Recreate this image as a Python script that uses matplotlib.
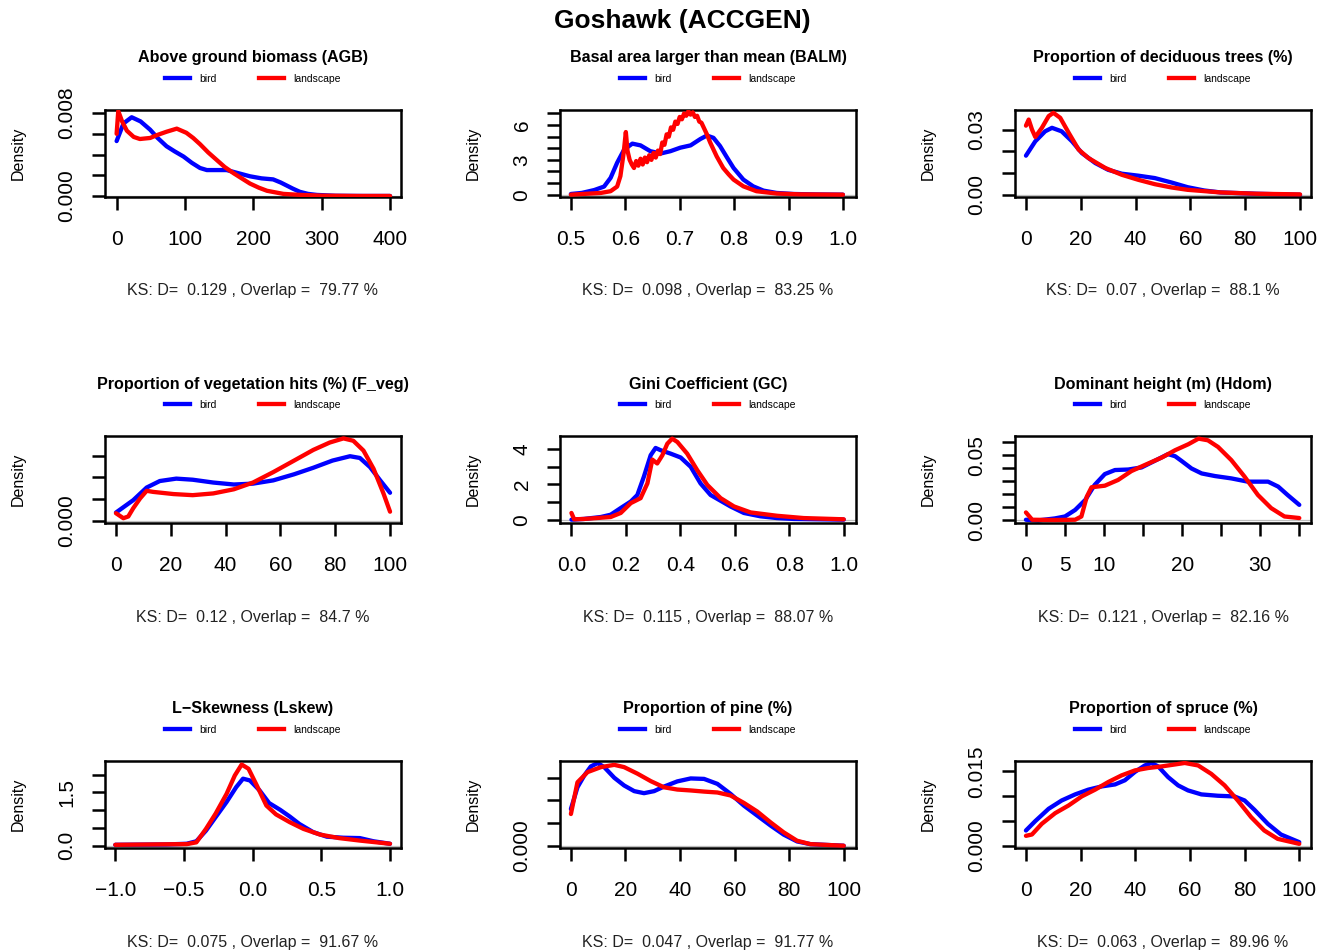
import matplotlib
matplotlib.use("Agg")
import matplotlib.pyplot as plt
from matplotlib.lines import Line2D

plt.rcParams['font.family'] = ['Liberation Sans', 'DejaVu Sans']

# --- data (x, density) ---
# Above ground biomass (AGB)
agb_bird_x = [0, 10, 22, 35, 49, 60, 73, 85, 98, 110, 122, 132, 145, 161, 178, 195, 212, 229, 240, 249, 258, 268, 280, 293, 320, 360, 400]
agb_bird_y = [0.0053, 0.0070, 0.0076, 0.0072, 0.0064, 0.0056, 0.0048, 0.0043, 0.0038, 0.0032, 0.0027, 0.0025, 0.0025, 0.0025, 0.0022, 0.0019, 0.0017, 0.0016, 0.0013, 0.0010, 0.0007, 0.0004, 0.0002, 0.0001, 0.00002, 0.0, 0.0]
agb_land_x = [0, 2.4, 8, 15, 25, 34, 49, 60, 73, 88, 102, 112, 122, 134, 146, 158, 171, 183, 195, 208, 220, 244, 270, 300, 350, 400]
agb_land_y = [0.0060, 0.0082, 0.0072, 0.0063, 0.0057, 0.0055, 0.0056, 0.0059, 0.0062, 0.0065, 0.0061, 0.0056, 0.0050, 0.0042, 0.0035, 0.0028, 0.0022, 0.0017, 0.0012, 0.0008, 0.0005, 0.0002, 0.0001, 0.00003, 0.0, 0.0]

# Basal area larger than mean (BALM)
balm_bird_x = [0.50, 0.52, 0.543, 0.561, 0.573, 0.585, 0.598, 0.613, 0.628, 0.646, 0.665, 0.683, 0.701, 0.720, 0.738, 0.750, 0.762, 0.774, 0.787, 0.799, 0.817, 0.835, 0.854, 0.878, 0.909, 0.95, 1.0]
balm_bird_y = [0.06, 0.15, 0.4, 0.7, 1.45, 2.75, 3.9, 4.4, 4.25, 3.75, 3.55, 3.75, 4.05, 4.25, 4.8, 5.1, 4.9, 4.2, 3.2, 2.3, 1.3, 0.72, 0.35, 0.15, 0.06, 0.02, 0.0]
balm_land_x = [0.50, 0.555, 0.573, 0.585, 0.591, 0.597, 0.601, 0.604, 0.608, 0.612, 0.616, 0.620, 0.624, 0.628,
               0.632, 0.636, 0.640, 0.644, 0.648, 0.652, 0.656, 0.660, 0.664, 0.668, 0.672, 0.676, 0.680, 0.684,
               0.688, 0.692, 0.696, 0.700, 0.704, 0.708, 0.712, 0.716, 0.720, 0.724, 0.728, 0.732, 0.736, 0.740,
               0.744, 0.750, 0.756, 0.762, 0.768, 0.774, 0.780, 0.790, 0.799, 0.817, 0.841, 0.878, 0.92, 1.0]
balm_land_y = [0.0, 0.15, 0.3, 0.7, 1.6, 3.6, 5.4, 3.8, 3.0, 2.6, 2.3, 2.9, 2.5, 3.1,
               2.6, 3.2, 2.8, 3.4, 3.0, 3.6, 3.2, 3.8, 3.5, 4.5, 4.3, 5.2, 5.0, 5.8,
               5.6, 6.3, 6.1, 6.7, 6.5, 7.0, 6.8, 7.2, 6.9, 7.1, 6.7, 6.8, 6.3, 6.2,
               5.8, 5.2, 4.5, 3.9, 3.3, 2.8, 2.3, 1.75, 1.3, 0.72, 0.3, 0.1, 0.03, 0.0]

# Proportion of deciduous trees (%)
dec_bird_x = [0, 3.4, 7, 9.5, 13, 16.8, 20.4, 25.3, 30, 35, 41, 47, 53, 59, 65, 71, 84, 100]
dec_bird_y = [0.018, 0.0246, 0.0292, 0.0308, 0.0292, 0.0246, 0.0192, 0.0146, 0.0115, 0.0097, 0.0088, 0.0077, 0.0057, 0.0035, 0.0020, 0.0011, 0.0005, 0.0]
dec_land_x = [0, 1, 2.2, 3.4, 5.8, 8.3, 10, 12.5, 15.6, 19.2, 22.8, 29, 35, 41, 47, 53, 59, 71, 84, 100]
dec_land_y = [0.0318, 0.0346, 0.030, 0.0266, 0.0308, 0.0362, 0.0377, 0.0354, 0.0285, 0.0208, 0.0169, 0.0123, 0.0092, 0.0069, 0.0049, 0.0034, 0.0023, 0.0011, 0.0005, 0.0002]

# Proportion of vegetation hits (%) (F_veg)
fveg_bird_x = [0, 6.3, 11.2, 16, 22, 28, 35.5, 43, 50, 57.4, 65, 72, 79, 85.4, 89, 92.7, 96.4, 100]
fveg_bird_y = [0.0019, 0.00475, 0.00765, 0.00915, 0.0097, 0.00945, 0.0088, 0.00835, 0.00855, 0.0093, 0.0107, 0.0122, 0.01385, 0.01485, 0.01445, 0.01235, 0.0093, 0.00645]
fveg_land_x = [0, 2.7, 4.5, 6.3, 8.8, 11.2, 13.6, 21, 28, 35.5, 43, 50, 57.4, 65, 72, 78, 83, 86.6, 90.3, 94, 97.6, 100]
fveg_land_y = [0.00175, 0.0006, 0.001, 0.0029, 0.00515, 0.0069, 0.00665, 0.00615, 0.0059, 0.0063, 0.00725, 0.0088, 0.0112, 0.01385, 0.0163, 0.018, 0.01895, 0.0184, 0.01615, 0.01195, 0.0063, 0.0021]

# Gini Coefficient (GC)
gc_bird_x = [0.0, 0.046, 0.108, 0.144, 0.181, 0.218, 0.242, 0.266, 0.291, 0.309, 0.328, 0.364, 0.401, 0.438, 0.474, 0.511, 0.548, 0.584, 0.633, 0.694, 0.755, 0.817, 1.0]
gc_bird_y = [0.0, 0.04, 0.15, 0.28, 0.66, 1.03, 1.4, 2.44, 3.66, 4.07, 3.94, 3.75, 3.53, 3.0, 2.06, 1.4, 1.07, 0.75, 0.38, 0.19, 0.09, 0.04, 0.0]
gc_land_x = [0.0, 0.01, 0.046, 0.144, 0.181, 0.218, 0.254, 0.279, 0.297, 0.315, 0.334, 0.352, 0.370, 0.389, 0.425, 0.462, 0.499, 0.548, 0.597, 0.658, 0.755, 0.853, 1.0]
gc_land_y = [0.38, 0.02, 0.04, 0.15, 0.38, 0.94, 1.22, 2.06, 3.41, 3.19, 3.66, 4.31, 4.6, 4.41, 3.75, 2.81, 1.97, 1.22, 0.75, 0.41, 0.22, 0.09, 0.02]

# Dominant height (m) (Hdom)
hdom_bird_x = [0, 1.6, 3.7, 5, 6.3, 7.6, 8.8, 10.1, 11.4, 13.1, 14.8, 16.5, 18.2, 19.1, 19.9, 21.2, 22.5, 24.2, 26.3, 28.4, 31, 32.3, 33.5, 35]
hdom_bird_y = [0.0005, 0.0, 0.0015, 0.003, 0.008, 0.0157, 0.0272, 0.0355, 0.0386, 0.039, 0.0406, 0.0457, 0.0508, 0.0492, 0.0457, 0.0398, 0.036, 0.034, 0.0322, 0.0297, 0.0297, 0.0259, 0.0195, 0.0119]
hdom_land_x = [0, 0.8, 3.7, 6.3, 7.1, 7.8, 8.4, 10.1, 11.8, 13.5, 15.2, 17.4, 19.1, 20.8, 22.1, 23.3, 24.6, 26.3, 28, 29.7, 31.4, 33.1, 35]
hdom_land_y = [0.0061, 0.0005, 0.0003, 0.0005, 0.003, 0.0183, 0.0254, 0.0266, 0.031, 0.0378, 0.0424, 0.0482, 0.0538, 0.0584, 0.0627, 0.0614, 0.0563, 0.0462, 0.0335, 0.0195, 0.0094, 0.003, 0.0018]

# L-Skewness (Lskew)
lsk_bird_x = [-1.0, -0.63, -0.48, -0.41, -0.34, -0.27, -0.19, -0.12, -0.07, -0.02, 0.05, 0.12, 0.20, 0.27, 0.34, 0.44, 0.54, 0.66, 0.78, 0.88, 1.0]
lsk_bird_y = [0.02, 0.03, 0.05, 0.12, 0.42, 0.8, 1.23, 1.65, 1.89, 1.84, 1.56, 1.2, 1.01, 0.82, 0.61, 0.38, 0.25, 0.22, 0.21, 0.12, 0.05]
lsk_land_x = [-1.0, -0.48, -0.41, -0.34, -0.27, -0.19, -0.13, -0.08, -0.03, 0.03, 0.10, 0.17, 0.27, 0.37, 0.49, 0.63, 0.78, 1.0]
lsk_land_y = [0.02, 0.04, 0.09, 0.47, 0.9, 1.46, 1.98, 2.29, 2.17, 1.7, 1.13, 0.88, 0.66, 0.47, 0.31, 0.21, 0.14, 0.05]

# Proportion of pine (%)
pine_bird_x = [0, 2.4, 4.9, 7.3, 9.8, 12.2, 15.9, 19.5, 23.2, 26.8, 30.5, 34.1, 39, 43.9, 48.8, 53.7, 58.5, 63.4, 68.3, 73.2, 78, 82.9, 87.8, 100]
pine_bird_y = [0.0081, 0.0129, 0.0155, 0.0175, 0.01825, 0.01735, 0.015, 0.0133, 0.01205, 0.0116, 0.01205, 0.01305, 0.0142, 0.01485, 0.01475, 0.01365, 0.01145, 0.00885, 0.00665, 0.00445, 0.00245, 0.00095, 0.00035, 0.0]
pine_land_x = [0, 2.4, 6.1, 11, 15.9, 19.5, 24.4, 29.3, 34.1, 39, 43.9, 48.8, 53.7, 58.5, 63.4, 68.3, 73.2, 78, 82.9, 87.8, 100]
pine_land_y = [0.007, 0.014, 0.01625, 0.01735, 0.01785, 0.01735, 0.0159, 0.01425, 0.0129, 0.0124, 0.0122, 0.01195, 0.01175, 0.0111, 0.00945, 0.00755, 0.00515, 0.00295, 0.0011, 0.00035, 0.0]

# Proportion of spruce (%)
spr_bird_x = [0, 3.4, 8.3, 13.1, 18, 22.8, 27.7, 32.6, 36.2, 39.9, 43.5, 45.9, 48.4, 52, 55.7, 59.3, 64.2, 70.2, 76.3, 80, 83.6, 88.5, 93.3, 100]
spr_bird_y = [0.00304, 0.00493, 0.00743, 0.00912, 0.01034, 0.0113, 0.01196, 0.01236, 0.0132, 0.0149, 0.0162, 0.0167, 0.016, 0.01385, 0.01216, 0.01115, 0.01034, 0.01007, 0.00993, 0.00912, 0.00723, 0.00439, 0.00223, 0.00068]
spr_land_x = [0, 2.2, 5.8, 10.7, 15.6, 20.4, 25.3, 30.1, 35, 39.9, 44.7, 49.6, 54.5, 58.1, 63, 67.8, 72.7, 77.5, 82.4, 87.2, 92.1, 100]
spr_land_y = [0.00196, 0.00223, 0.00439, 0.00655, 0.0081, 0.00993, 0.0113, 0.01284, 0.01419, 0.0152, 0.01568, 0.016, 0.0164, 0.0167, 0.0162, 0.0145, 0.01216, 0.00912, 0.00574, 0.00304, 0.00135, 0.00034]

titles = ["Above ground biomass (AGB)", "Basal area larger than mean (BALM)", "Proportion of deciduous trees (%)",
          "Proportion of vegetation hits (%) (F_veg)", "Gini Coefficient (GC)", "Dominant height (m) (Hdom)",
          "L\u2212Skewness (Lskew)", "Proportion of pine (%)", "Proportion of spruce (%)"]
ks_d = ["0.129", "0.098", "0.07", "0.12", "0.115", "0.121", "0.075", "0.047", "0.063"]
overlap = ["79.77", "83.25", "88.1", "84.7", "88.07", "82.16", "91.67", "91.77", "89.96"]

x_ticks = [[0, 100, 200, 300, 400], [0.5, 0.6, 0.7, 0.8, 0.9, 1.0], [0, 20, 40, 60, 80, 100],
           [0, 20, 40, 60, 80, 100], [0.0, 0.2, 0.4, 0.6, 0.8, 1.0], [0, 5, 10, 15, 20, 25, 30, 35],
           [-1.0, -0.5, 0.0, 0.5, 1.0], [0, 20, 40, 60, 80, 100], [0, 20, 40, 60, 80, 100]]
x_labels = [["0", "100", "200", "300", "400"], ["0.5", "0.6", "0.7", "0.8", "0.9", "1.0"],
            ["0", "20", "40", "60", "80", "100"], ["0", "20", "40", "60", "80", "100"],
            ["0.0", "0.2", "0.4", "0.6", "0.8", "1.0"], ["0", "5", "10", "", "20", "", "30", ""],
            ["\u22121.0", "\u22120.5", "0.0", "0.5", "1.0"], ["0", "20", "40", "60", "80", "100"],
            ["0", "20", "40", "60", "80", "100"]]
y_ticks = [[0, 0.002, 0.004, 0.006, 0.008], [0, 1, 2, 3, 4, 5, 6, 7], [0, 0.01, 0.02, 0.03],
           [0, 0.005, 0.010, 0.015], [0, 1, 2, 3, 4], [0, 0.01, 0.02, 0.03, 0.04, 0.05, 0.06],
           [0, 0.5, 1.0, 1.5, 2.0], [0, 0.005, 0.010, 0.015], [0, 0.005, 0.010, 0.015]]
y_labels = [["0.000", "", "", "", "0.008"], ["0", "", "", "3", "", "", "6", ""], ["0.00", "", "", "0.03"],
            ["0.000", "", "", ""], ["0", "", "2", "", "4"], ["0.00", "", "", "", "", "0.05", ""],
            ["0.0", "", "", "1.5", ""], ["0.000", "", "", ""], ["0.000", "", "", "0.015"]]
x_lims = [(-17, 416), (0.48, 1.024), (-4, 104), (-4, 104), (-0.042, 1.045), (-1.4, 36.5),
          (-1.075, 1.08), (-4, 104.5), (-4, 104.3)]
y_lims = [(-0.0001, 0.0083), (-0.2, 7.3), (-0.001, 0.039), (-0.0005, 0.0195), (-0.19, 4.75),
          (-0.002, 0.0647), (-0.07, 2.39), (-0.0005, 0.0187), (-0.0005, 0.0171)]

bird = [(agb_bird_x, agb_bird_y), (balm_bird_x, balm_bird_y), (dec_bird_x, dec_bird_y),
        (fveg_bird_x, fveg_bird_y), (gc_bird_x, gc_bird_y), (hdom_bird_x, hdom_bird_y),
        (lsk_bird_x, lsk_bird_y), (pine_bird_x, pine_bird_y), (spr_bird_x, spr_bird_y)]
land = [(agb_land_x, agb_land_y), (balm_land_x, balm_land_y), (dec_land_x, dec_land_y),
        (fveg_land_x, fveg_land_y), (gc_land_x, gc_land_y), (hdom_land_x, hdom_land_y),
        (lsk_land_x, lsk_land_y), (pine_land_x, pine_land_y), (spr_land_x, spr_land_y)]

W, H = 1332, 952
fig = plt.figure(figsize=(W / 100, H / 100), dpi=100)
fig.text(682 / W, 1 - 21 / H, "Goshawk (ACCGEN)", ha='center', va='center', fontsize=19, fontweight='bold')

lefts = [105, 560, 1015]
tops = [110, 436, 761]
bw, bh = 296, 87

for i in range(9):
    row, col = divmod(i, 3)
    ax = fig.add_axes([lefts[col] / W, 1 - (tops[row] + bh) / H, bw / W, bh / H])
    ax.axhline(0, color='#bebebe', lw=0.9, zorder=1)
    ax.plot(bird[i][0], bird[i][1], color='blue', lw=3.1, solid_capstyle='round', solid_joinstyle='round', zorder=2)
    ax.plot(land[i][0], land[i][1], color='red', lw=3.1, solid_capstyle='round', solid_joinstyle='round', zorder=3)
    ax.set_xlim(*x_lims[i])
    ax.set_ylim(*y_lims[i])
    ax.set_xticks(x_ticks[i])
    ax.set_xticklabels(x_labels[i], fontsize=15)
    ax.set_yticks(y_ticks[i])
    ax.set_yticklabels(y_labels[i], fontsize=15, rotation=90, va='center')
    ax.tick_params(axis='both', length=9.5, width=1.8)
    ax.tick_params(axis='x', pad=14)
    ax.tick_params(axis='y', pad=11)
    for s in ax.spines.values():
        s.set_linewidth(1.8)
    ax.text(0.5, 1 + 52 / bh, titles[i], transform=ax.transAxes, ha='center', va='center',
            fontsize=11.6, fontweight='bold')
    handles = [Line2D([], [], color='blue', lw=3.1), Line2D([], [], color='red', lw=3.1)]
    ax.legend(handles, ['bird', 'landscape'], loc='center', bbox_to_anchor=(0.5, 1 + 31 / bh),
              ncol=2, frameon=False, fontsize=7.5, handlelength=2.4, handletextpad=0.9,
              columnspacing=4.0, borderaxespad=0, borderpad=0)
    ax.text(-87 / bw, 0.5, "Density", transform=ax.transAxes, rotation=90, ha='center', va='center',
            fontsize=11.5)
    ax.text(0.5, -94 / bh, "KS: D=  " + ks_d[i] + " , Overlap =  " + overlap[i] + " %",
            transform=ax.transAxes, ha='center', va='center', fontsize=11.5, color='#222222')

fig.savefig("out.png", dpi=100)
